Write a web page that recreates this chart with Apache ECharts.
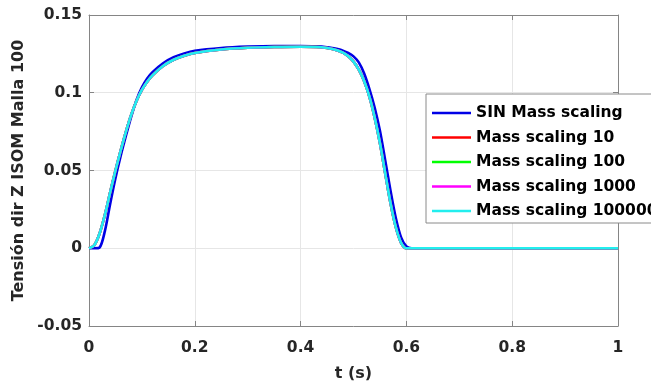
<!DOCTYPE html>
<html>
<head>
<meta charset="utf-8">
<script src="https://cdn.jsdelivr.net/npm/echarts@6/dist/echarts.min.js"></script>
<style>
html,body{margin:0;padding:0;background:#fff;}
#chart{width:651px;height:388px;}
</style>
</head>
<body>
<div id="chart"></div>
<script>
// Time samples (s)
var timeS = [0, 0.01, 0.02, 0.03, 0.04, 0.05, 0.06, 0.07, 0.08, 0.09, 0.10, 0.11, 0.12, 0.14, 0.16, 0.18, 0.20, 0.25, 0.30, 0.35, 0.40, 0.43, 0.45, 0.46, 0.47, 0.48, 0.49, 0.50, 0.51, 0.52, 0.53, 0.54, 0.55, 0.56, 0.57, 0.58, 0.59, 0.60, 0.61, 0.7, 0.8, 0.9, 1.0];
// SIN Mass scaling
var sinMass = [0, 0, 0.0005, 0.011, 0.0285, 0.045, 0.0595, 0.0725, 0.0848, 0.0955, 0.1035, 0.1092, 0.1133, 0.119, 0.1228, 0.1253, 0.127, 0.1288, 0.1297, 0.1301, 0.1301, 0.1298, 0.1293, 0.1288, 0.1281, 0.1271, 0.1256, 0.1234, 0.1195, 0.1125, 0.1025, 0.0905, 0.0755, 0.0565, 0.037, 0.0195, 0.007, 0.0012, 0, 0, 0, 0, 0];
// Mass scaling curves (overlapping; drawn under the 100000 curve)
var mass10 = [0, 0.002, 0.0095, 0.0215, 0.036, 0.050, 0.063, 0.0752, 0.086, 0.0948, 0.1018, 0.1071, 0.1112, 0.1172, 0.1212, 0.1238, 0.1256, 0.1278, 0.1289, 0.1294, 0.1296, 0.1294, 0.1288, 0.1282, 0.1272, 0.1258, 0.1235, 0.120, 0.1148, 0.1075, 0.0975, 0.084, 0.0675, 0.048, 0.029, 0.0135, 0.0035, 0, 0, 0, 0, 0, 0];
var mass100 = [0, 0.002, 0.0095, 0.0215, 0.036, 0.050, 0.063, 0.0752, 0.086, 0.0948, 0.1018, 0.1071, 0.1112, 0.1172, 0.1212, 0.1238, 0.1256, 0.1278, 0.1289, 0.1294, 0.1296, 0.1294, 0.1288, 0.1282, 0.1272, 0.1258, 0.1235, 0.120, 0.1148, 0.1075, 0.0975, 0.084, 0.0675, 0.048, 0.029, 0.0135, 0.0035, 0, 0, 0, 0, 0, 0];
var mass1000 = [0, 0.002, 0.0095, 0.0215, 0.036, 0.050, 0.063, 0.0752, 0.086, 0.0948, 0.1018, 0.1071, 0.1112, 0.1172, 0.1212, 0.1238, 0.1256, 0.1278, 0.1289, 0.1294, 0.1296, 0.1294, 0.1288, 0.1282, 0.1272, 0.1258, 0.1235, 0.120, 0.1148, 0.1075, 0.0975, 0.084, 0.0675, 0.048, 0.029, 0.0135, 0.0035, 0, 0, 0, 0, 0, 0];
var mass100000 = [0, 0.002, 0.0095, 0.0215, 0.036, 0.050, 0.063, 0.0752, 0.086, 0.0948, 0.1018, 0.1071, 0.1112, 0.1172, 0.1212, 0.1238, 0.1256, 0.1278, 0.1289, 0.1294, 0.1296, 0.1294, 0.1288, 0.1282, 0.1272, 0.1258, 0.1235, 0.120, 0.1148, 0.1075, 0.0975, 0.084, 0.0675, 0.048, 0.029, 0.0135, 0.0035, 0, 0, 0, 0, 0, 0];

var seriesNames = ['SIN Mass scaling', 'Mass scaling 10', 'Mass scaling 100', 'Mass scaling 1000', 'Mass scaling 100000'];
var seriesValues = [sinMass, mass10, mass100, mass1000, mass100000];
var seriesColors = ['#0000e6', '#ff0000', '#00ff00', '#ff00ff', '#22eeee'];

var xTicks = {min: 0, max: 1, interval: 0.2};
var yTicks = {min: -0.05, max: 0.15, interval: 0.05};

var FONT = 'DejaVu Sans';
var axisGray = '#858585';
var textCol = '#262626';

function pairs(vals) {
  return timeS.map(function (t, i) { return [t, vals[i]]; });
}

var chart = echarts.init(document.getElementById('chart'), null, {renderer: 'canvas'});
var option = {
  animation: false,
  backgroundColor: '#ffffff',
  grid: {left: 89, right: 33, top: 15, bottom: 62, containLabel: false},
  legend: {
    orient: 'vertical',
    left: 426, top: 94,
    padding: [10, 6, 3, 6],
    icon: 'rect',
    itemWidth: 39, itemHeight: 2.5, itemGap: 6.5,
    backgroundColor: '#ffffff',
    borderColor: '#8a8a8a', borderWidth: 1,
    textStyle: {fontFamily: FONT, fontWeight: 'bold', fontSize: 15.5, color: '#000', lineHeight: 18},
    data: seriesNames.slice()
  },
  xAxis: [{
    type: 'value', min: xTicks.min, max: xTicks.max, interval: xTicks.interval,
    position: 'bottom',
    name: 't (s)', nameLocation: 'middle', nameGap: 40,
    nameTextStyle: {fontFamily: FONT, fontWeight: 'bold', fontSize: 16, color: textCol},
    axisLine: {show: true, onZero: false, lineStyle: {color: axisGray, width: 1}},
    axisTick: {show: true, inside: true, length: 5, lineStyle: {color: axisGray}},
    axisLabel: {fontFamily: FONT, fontWeight: 'bold', fontSize: 15.5, color: textCol, margin: 14},
    splitLine: {show: true, lineStyle: {color: '#e6e6e6', width: 1}}
  }, {
    type: 'value', min: xTicks.min, max: xTicks.max, interval: xTicks.interval,
    position: 'top',
    axisLine: {show: true, onZero: false, lineStyle: {color: axisGray, width: 1}},
    axisTick: {show: true, inside: true, length: 5, lineStyle: {color: axisGray}},
    axisLabel: {show: false},
    splitLine: {show: false}
  }],
  yAxis: [{
    type: 'value', min: yTicks.min, max: yTicks.max, interval: yTicks.interval,
    position: 'left',
    name: 'Tensión dir Z ISOM Malla 100', nameLocation: 'middle', nameGap: 49,
    nameTextStyle: {fontFamily: FONT, fontWeight: 'bold', fontSize: 16, color: textCol},
    axisLine: {show: true, onZero: false, lineStyle: {color: axisGray, width: 1}},
    axisTick: {show: true, inside: true, length: 5, lineStyle: {color: axisGray}},
    axisLabel: {fontFamily: FONT, fontWeight: 'bold', fontSize: 15.5, color: textCol, margin: 7},
    splitLine: {show: true, lineStyle: {color: '#e6e6e6', width: 1}}
  }, {
    type: 'value', min: yTicks.min, max: yTicks.max, interval: yTicks.interval,
    position: 'right',
    axisLine: {show: true, onZero: false, lineStyle: {color: axisGray, width: 1}},
    axisTick: {show: true, inside: true, length: 5, lineStyle: {color: axisGray}},
    axisLabel: {show: false},
    splitLine: {show: false}
  }],
  series: seriesNames.map(function (n, i) {
    return {
      name: n, type: 'line', xAxisIndex: 0, yAxisIndex: 0,
      data: pairs(seriesValues[i]),
      symbol: 'none', showSymbol: false,
      smooth: 0.3,
      color: seriesColors[i],
      itemStyle: {color: seriesColors[i]},
      lineStyle: {color: seriesColors[i], width: 2.6, join: 'round'},
      z: 2 + i
    };
  })
};
chart.setOption(option);
</script>
</body>
</html>
